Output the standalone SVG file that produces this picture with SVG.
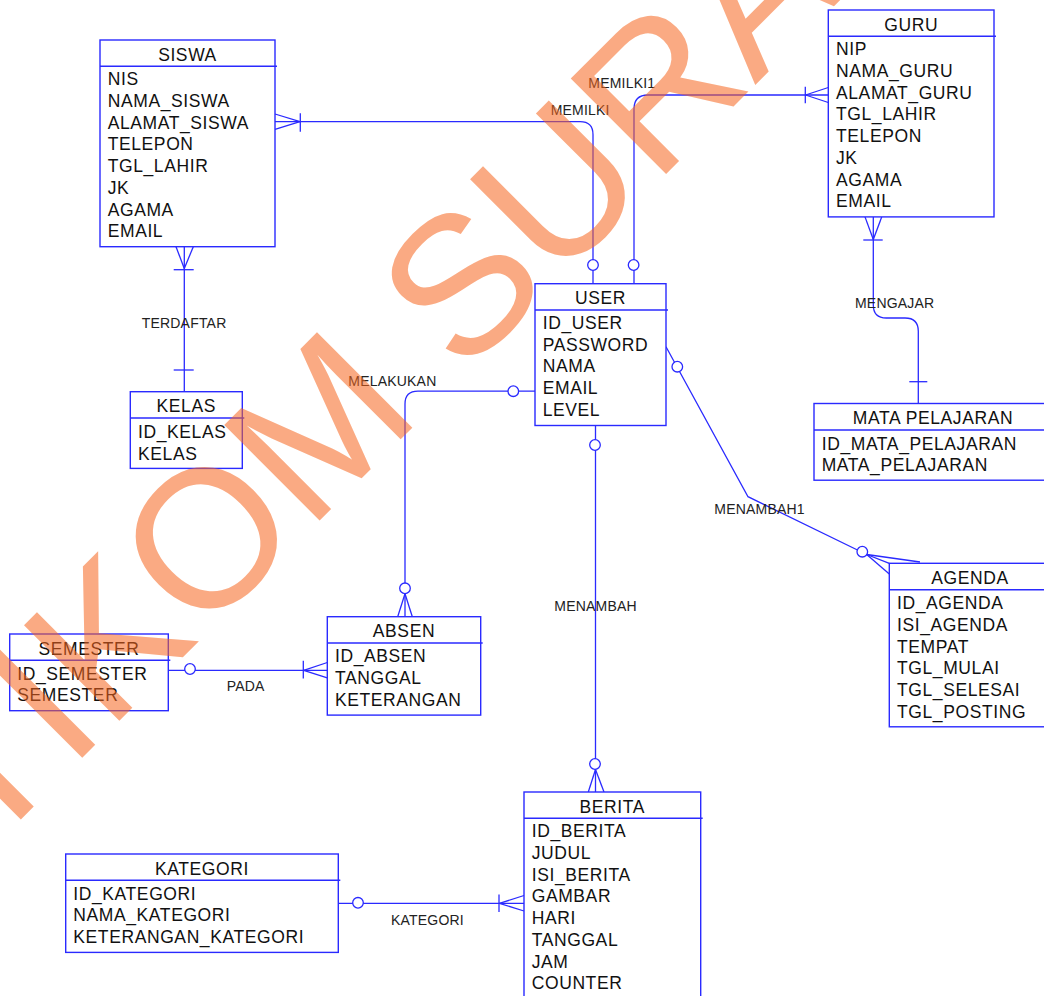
<svg xmlns="http://www.w3.org/2000/svg" width="1044" height="996" viewBox="0 0 1044 996">
<style>
.box{fill:#fff;stroke:#2a2aff;stroke-width:1.4}
.hl{stroke:#2a2aff;stroke-width:1.4}
.t{font-family:"Liberation Sans",Arial,sans-serif;font-size:17.5px;letter-spacing:0.6px;fill:#111}
.ttl{text-anchor:middle}
.lbl{font-family:"Liberation Sans",Arial,sans-serif;font-size:14px;letter-spacing:0.2px;fill:#222}
.c path,.c line{fill:none;stroke:#2a2aff;stroke-width:1.3}
.c circle{fill:#fff;stroke:#2a2aff;stroke-width:1.3}
.wm{font-family:"Liberation Sans",Arial,sans-serif;font-size:196px;fill:#f7661e;opacity:0.55}
</style>
<rect width="1044" height="996" fill="#fff"/>

<g id="connectors" class="c">
  <!-- SISWA - USER (MEMILKI) -->
  <path d="M275,121.7 H580 Q593,121.7 593,134.7 V283.7"/>
  <line x1="275" y1="114" x2="300" y2="121.7"/>
  <line x1="275" y1="129.4" x2="300" y2="121.7"/>
  <line x1="300.3" y1="113.3" x2="300.3" y2="131.7"/>
  <circle cx="593" cy="265" r="5.3"/>
  <!-- GURU - USER (MEMILKI1) -->
  <path d="M828.3,95 H648 Q634,95 634,109 V283.7"/>
  <line x1="828.3" y1="87.5" x2="805.5" y2="95"/>
  <line x1="828.3" y1="102.5" x2="805.5" y2="95"/>
  <line x1="805.3" y1="86.7" x2="805.3" y2="103.3"/>
  <circle cx="633.6" cy="265" r="5.3"/>
  <!-- GURU - MATA PELAJARAN (MENGAJAR) -->
  <path d="M873.3,216.9 V305 Q873.3,318 886.3,318 H905 Q918.3,318 918.3,331.3 V403.3"/>
  <line x1="865" y1="216.9" x2="873.3" y2="239.5"/>
  <line x1="881.7" y1="216.9" x2="873.3" y2="239.5"/>
  <line x1="863.3" y1="240" x2="882.7" y2="240"/>
  <line x1="909.3" y1="381.7" x2="927.3" y2="381.7"/>
  <!-- USER - AGENDA (MENAMBAH1) -->
  <path d="M666,346.7 L748,496.7 L866.7,554.5"/>
  <line x1="866.7" y1="554.5" x2="920" y2="562"/>
  <line x1="866.7" y1="554.5" x2="889.3" y2="563.3"/>
  <line x1="866.7" y1="554.5" x2="889.3" y2="574"/>
  <circle cx="677.3" cy="366.7" r="5.3"/>
  <circle cx="862.3" cy="551.7" r="5.3"/>
  <!-- USER - BERITA (MENAMBAH) -->
  <path d="M595.5,425.5 V792"/>
  <line x1="595.5" y1="769.5" x2="588.3" y2="792"/>
  <line x1="595.5" y1="769.5" x2="604" y2="792"/>
  <circle cx="595" cy="445" r="5.3"/>
  <circle cx="595" cy="764" r="5.3"/>
  <!-- USER - ABSEN (MELAKUKAN) -->
  <path d="M535,391.2 H418 Q405,391.2 405,404 V616.7"/>
  <line x1="405" y1="593.8" x2="397.7" y2="616.7"/>
  <line x1="405" y1="593.8" x2="412.3" y2="616.7"/>
  <circle cx="513.3" cy="391.2" r="5.3"/>
  <circle cx="405" cy="588.3" r="5.3"/>
  <!-- SEMESTER - ABSEN (PADA) -->
  <path d="M168.3,670.3 H327.3"/>
  <line x1="327.3" y1="662.5" x2="303.7" y2="670.3"/>
  <line x1="327.3" y1="677.8" x2="303.7" y2="670.3"/>
  <line x1="303.3" y1="660.7" x2="303.3" y2="678.5"/>
  <circle cx="190" cy="669" r="5.3"/>
  <!-- KATEGORI - BERITA (KATEGORI) -->
  <path d="M338.3,903.3 H524"/>
  <line x1="524" y1="895.5" x2="499.5" y2="903.3"/>
  <line x1="524" y1="911" x2="499.5" y2="903.3"/>
  <line x1="499" y1="894.5" x2="499" y2="912"/>
  <circle cx="358" cy="902.8" r="5.3"/>
  <!-- SISWA - KELAS (TERDAFTAR) -->
  <path d="M184.3,246.7 V391.7"/>
  <line x1="176" y1="246.7" x2="184.3" y2="268.5"/>
  <line x1="193.3" y1="246.7" x2="184.3" y2="268.5"/>
  <line x1="173.7" y1="269.7" x2="193.7" y2="269.7"/>
  <line x1="173.7" y1="370" x2="193.7" y2="370"/>
  <!-- labels -->
  <text class="lbl" x="550.7" y="115">MEMILKI</text>
  <text class="lbl" x="588.3" y="88.3">MEMILKI1</text>
  <text class="lbl" x="141.7" y="327.5">TERDAFTAR</text>
  <text class="lbl" x="348.3" y="385.5">MELAKUKAN</text>
  <text class="lbl" x="855" y="308">MENGAJAR</text>
  <text class="lbl" x="714.3" y="514">MENAMBAH1</text>
  <text class="lbl" x="554.3" y="610.5">MENAMBAH</text>
  <text class="lbl" x="226.7" y="690.5">PADA</text>
  <text class="lbl" x="391" y="924.5">KATEGORI</text>
</g>

<g id="siswa">
  <rect class="box" x="100" y="40" width="175" height="206.7"/>
  <line class="hl" x1="100" y1="66.3" x2="277" y2="66.3"/>
  <text class="t ttl" x="187.5" y="60.6">SISWA</text>
  <text class="t" x="107.7" y="85.3">NIS</text>
  <text class="t" x="107.7" y="107">NAMA_SISWA</text>
  <text class="t" x="107.7" y="128.7">ALAMAT_SISWA</text>
  <text class="t" x="107.7" y="150.4">TELEPON</text>
  <text class="t" x="107.7" y="172.1">TGL_LAHIR</text>
  <text class="t" x="107.7" y="193.8">JK</text>
  <text class="t" x="107.7" y="215.5">AGAMA</text>
  <text class="t" x="107.7" y="237.2">EMAIL</text>
</g>

<g id="kelas">
  <rect class="box" x="130.3" y="391.7" width="112" height="76.7"/>
  <line class="hl" x1="130.3" y1="418" x2="244.3" y2="418"/>
  <text class="t ttl" x="186.3" y="412.3">KELAS</text>
  <text class="t" x="138" y="438">ID_KELAS</text>
  <text class="t" x="138" y="459.7">KELAS</text>
</g>

<g id="guru">
  <rect class="box" x="828.3" y="10" width="165.7" height="206.9"/>
  <line class="hl" x1="828.3" y1="36.3" x2="996" y2="36.3"/>
  <text class="t ttl" x="911.2" y="30.6">GURU</text>
  <text class="t" x="836" y="55.3">NIP</text>
  <text class="t" x="836" y="77">NAMA_GURU</text>
  <text class="t" x="836" y="98.7">ALAMAT_GURU</text>
  <text class="t" x="836" y="120.4">TGL_LAHIR</text>
  <text class="t" x="836" y="142.1">TELEPON</text>
  <text class="t" x="836" y="163.8">JK</text>
  <text class="t" x="836" y="185.5">AGAMA</text>
  <text class="t" x="836" y="207.2">EMAIL</text>
</g>

<g id="user">
  <rect class="box" x="535" y="283.7" width="131" height="141.8"/>
  <line class="hl" x1="535" y1="310" x2="668" y2="310"/>
  <text class="t ttl" x="600.5" y="304.3">USER</text>
  <text class="t" x="542.7" y="329">ID_USER</text>
  <text class="t" x="542.7" y="350.7">PASSWORD</text>
  <text class="t" x="542.7" y="372.4">NAMA</text>
  <text class="t" x="542.7" y="394.1">EMAIL</text>
  <text class="t" x="542.7" y="415.8">LEVEL</text>
</g>

<g id="mata_pelajaran">
  <rect class="box" x="814" y="403.5" width="238" height="76.7"/>
  <line class="hl" x1="814" y1="430" x2="1052" y2="430"/>
  <text class="t ttl" x="933" y="424">MATA PELAJARAN</text>
  <text class="t" x="821.7" y="449.5">ID_MATA_PELAJARAN</text>
  <text class="t" x="821.7" y="471.2">MATA_PELAJARAN</text>
</g>

<g id="agenda">
  <rect class="box" x="889.3" y="563.3" width="162" height="163.5"/>
  <line class="hl" x1="889.3" y1="589.8" x2="1052" y2="589.8"/>
  <text class="t ttl" x="970" y="584">AGENDA</text>
  <text class="t" x="897" y="609.3">ID_AGENDA</text>
  <text class="t" x="897" y="631">ISI_AGENDA</text>
  <text class="t" x="897" y="652.7">TEMPAT</text>
  <text class="t" x="897" y="674.4">TGL_MULAI</text>
  <text class="t" x="897" y="696.1">TGL_SELESAI</text>
  <text class="t" x="897" y="717.8">TGL_POSTING</text>
</g>

<g id="absen">
  <rect class="box" x="327.3" y="616.7" width="153.4" height="98.4"/>
  <line class="hl" x1="327.3" y1="643" x2="482.7" y2="643"/>
  <text class="t ttl" x="404" y="637.3">ABSEN</text>
  <text class="t" x="335" y="662.3">ID_ABSEN</text>
  <text class="t" x="335" y="684">TANGGAL</text>
  <text class="t" x="335" y="705.7">KETERANGAN</text>
</g>

<g id="semester">
  <rect class="box" x="9.7" y="634" width="158.6" height="76.7"/>
  <line class="hl" x1="9.7" y1="660.3" x2="170.3" y2="660.3"/>
  <text class="t ttl" x="89" y="654.6">SEMESTER</text>
  <text class="t" x="17.3" y="679.6">ID_SEMESTER</text>
  <text class="t" x="17.3" y="701.3">SEMESTER</text>
</g>

<g id="kategori">
  <rect class="box" x="65.7" y="854" width="272.6" height="98.4"/>
  <line class="hl" x1="65.7" y1="880.3" x2="340.3" y2="880.3"/>
  <text class="t ttl" x="202" y="874.6">KATEGORI</text>
  <text class="t" x="73.3" y="899.6">ID_KATEGORI</text>
  <text class="t" x="73.3" y="921.3">NAMA_KATEGORI</text>
  <text class="t" x="73.3" y="943">KETERANGAN_KATEGORI</text>
</g>

<g id="berita">
  <rect class="box" x="524" y="792" width="176.7" height="206.9"/>
  <line class="hl" x1="524" y1="818.3" x2="702.7" y2="818.3"/>
  <text class="t ttl" x="612.3" y="812.6">BERITA</text>
  <text class="t" x="531.7" y="837.3">ID_BERITA</text>
  <text class="t" x="531.7" y="859">JUDUL</text>
  <text class="t" x="531.7" y="880.7">ISI_BERITA</text>
  <text class="t" x="531.7" y="902.4">GAMBAR</text>
  <text class="t" x="531.7" y="924.1">HARI</text>
  <text class="t" x="531.7" y="945.8">TANGGAL</text>
  <text class="t" x="531.7" y="967.5">JAM</text>
  <text class="t" x="531.7" y="989.2">COUNTER</text>
</g>

<g id="watermark">
  <text class="wm" transform="translate(-107.5,947.6) rotate(-45)" x="0" y="0">STIKOM SURABAYA</text>
</g>
</svg>
